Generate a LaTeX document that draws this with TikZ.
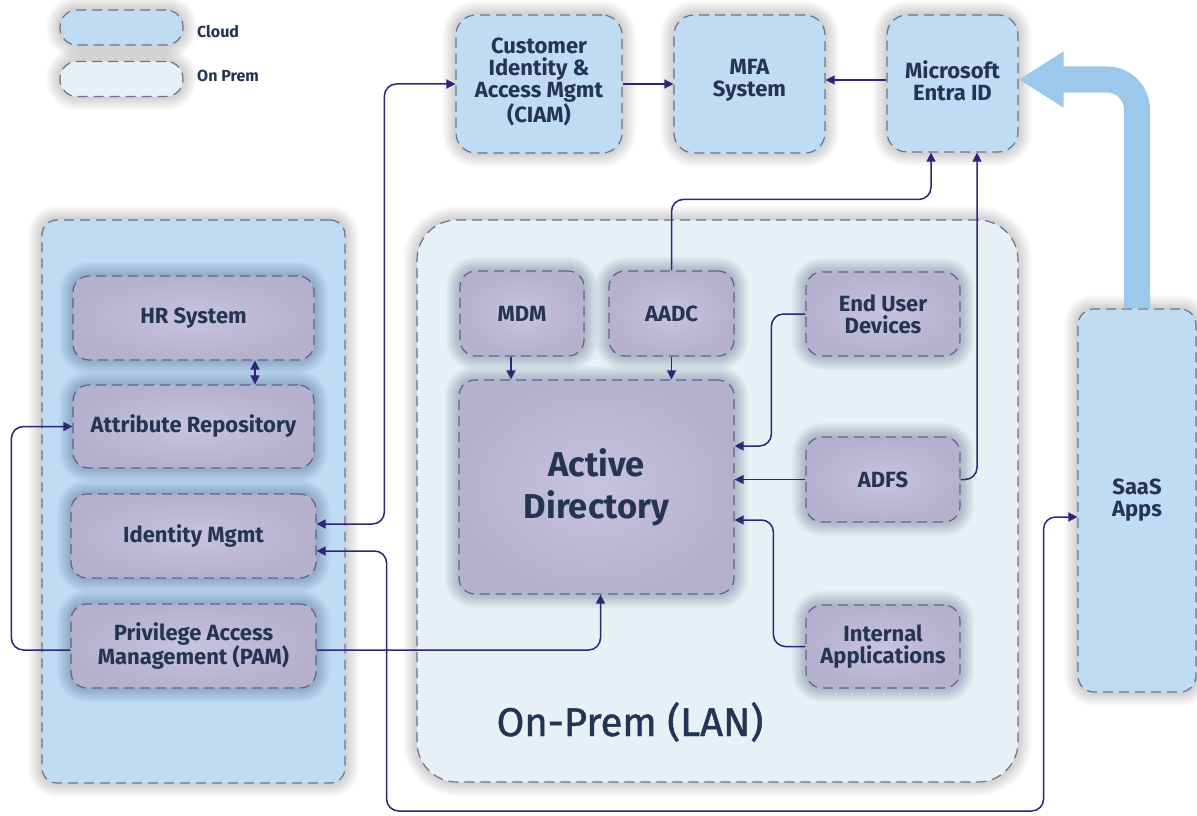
\documentclass[tikz,border=0pt]{standalone}
\usepackage{fontspec}
\setmainfont{Fira Sans}
\usetikzlibrary{arrows.meta,calc}
\definecolor{cloudblue}{HTML}{BFDCF3}
\definecolor{onpremfill}{HTML}{E7F0F4}
\definecolor{purplein}{HTML}{C7C4E0}
\definecolor{purpleout}{HTML}{B5B0CB}
\definecolor{dashgray}{HTML}{6C7290}
\definecolor{purpledash}{HTML}{5E6292}
\definecolor{connc}{HTML}{2F2479}
\definecolor{textc}{HTML}{243452}
\definecolor{arrowblue}{HTML}{9CC8EC}
\definecolor{glowc}{HTML}{1E2B55}
\begin{document}
\begin{tikzpicture}[x=1pt,y=-1pt,
  every node/.style={text=textc, align=center, inner sep=0pt},
  dashedge/.style={draw=dashgray, line width=1.2pt, dash pattern=on 10pt off 6pt},
  glowlayers/.style 2 args={
    preaction={draw=#1, draw opacity=#2, line width=28pt, solid},
    preaction={draw=#1, draw opacity=#2, line width=25pt, solid},
    preaction={draw=#1, draw opacity=#2, line width=22pt, solid},
    preaction={draw=#1, draw opacity=#2, line width=19pt, solid},
    preaction={draw=#1, draw opacity=#2, line width=16pt, solid},
    preaction={draw=#1, draw opacity=#2, line width=13pt, solid},
    preaction={draw=#1, draw opacity=#2, line width=10pt, solid},
    preaction={draw=#1, draw opacity=#2, line width=7pt, solid},
    preaction={draw=#1, draw opacity=#2, line width=4pt, solid}},
  softshadow/.style={glowlayers={black}{0.02}},
  darkglow/.style={glowlayers={glowc}{0.032}},
  labelfont/.style={font=\bfseries\fontsize{22}{22}\selectfont},
  cloudbox/.style={dashedge, fill=cloudblue, rounded corners=20pt, softshadow, labelfont},
  cloudpanel/.style={dashedge, fill=cloudblue, rounded corners=15pt, softshadow},
  onprempanel/.style={dashedge, fill=onpremfill, rounded corners=40pt, softshadow},
  purplebox/.style={draw=purpledash, line width=1.2pt, dash pattern=on 10pt off 6pt,
    inner color=purplein, outer color=purpleout, rounded corners=16pt, darkglow, labelfont},
  legendpill/.style={dashedge, rounded corners=17pt, minimum width=123pt, minimum height=35pt, softshadow},
  legendtext/.style={anchor=west, font=\bfseries\fontsize{16}{18}\selectfont},
  conn/.style={draw=connc, line width=1.5pt, rounded corners=12pt, -{Triangle[length=9pt,width=9pt]}},
  conntwo/.style={conn, {Triangle[length=9pt,width=9pt]}-{Triangle[length=9pt,width=9pt]}},
  bigarrow/.style={draw=arrowblue, line width=26pt, rounded corners=30pt, -{Triangle[length=45pt,width=53pt]}}
]
\useasboundingbox[fill=white] (0,0) rectangle (1197,816);

% legend
\node[legendpill, fill=cloudblue] (legcloud) at (121.5,27.5) {};
\node[legendpill, fill=onpremfill] (legprem) at (121.5,79) {};
\node[legendtext] (legcloudtext) at (197,32) {Cloud};
\node[legendtext] (legpremtext) at (197,76) {On Prem};

% top cloud boxes
\node[cloudbox, minimum width=166pt, minimum height=138pt] (ciam) at (539,84) {};
\node[labelfont] (ciamtext) at (539,82) {Customer\\Identity \&\\Access Mgmt\\(CIAM)};
\node[cloudbox, minimum width=151pt, minimum height=138pt] (mfa) at (749.5,84) {};
\node[labelfont] (mfatext) at (749.5,80.5) {MFA\\System};
\node[cloudbox, minimum width=131pt, minimum height=137pt] (entra) at (952.5,83.5) {};
\node[labelfont] (entratext) at (952.5,80.5) {Microsoft\\Entra ID};

% panels
\node[cloudpanel, minimum width=303pt, minimum height=563pt] (cloudpanel) at (193.5,501.5) {};
\node[onprempanel, minimum width=601pt, minimum height=562pt] (onprem) at (717.5,501) {};

% cloud panel contents
\node[purplebox, minimum width=241pt, minimum height=84pt] (hr) at (193.5,318) {HR System};
\node[purplebox, minimum width=241pt, minimum height=83pt] (attr) at (193.5,426.5) {Attribute Repository};
\node[purplebox, minimum width=245pt, minimum height=84pt] (idm) at (193.5,536) {Identity Mgmt};
\node[purplebox, minimum width=245pt, minimum height=84pt] (pam) at (193.5,646) {Privilege Access\\Management (PAM)};

% on-prem contents
\node[purplebox, minimum width=124pt, minimum height=85pt] (mdm) at (522,313.5) {MDM};
\node[purplebox, minimum width=125pt, minimum height=85pt] (aadc) at (671.5,313.5) {AADC};
\node[purplebox, minimum width=275pt, minimum height=214pt, font=\bfseries\fontsize{34.5}{42}\selectfont] (ad) at (596.5,487) {Active\\Directory};
\node[purplebox, minimum width=154pt, minimum height=84pt] (eud) at (883,314) {End User\\Devices};
\node[purplebox, minimum width=154pt, minimum height=85pt] (adfs) at (883,479.5) {ADFS};
\node[purplebox, minimum width=154pt, minimum height=83pt] (intapp) at (883,646.5) {Internal\\Applications};
\node[font=\fontsize{40}{44}\selectfont\addfontfeature{FakeBold=1.2}] (lan) at (630,722) {On-Prem (LAN)};

% SaaS
\node[cloudbox, rounded corners=16pt, minimum width=118pt, minimum height=383pt] (saas) at (1137,500.5) {SaaS\\Apps};

% big arrow
\draw[bigarrow] (saas.north) |- ([yshift=4pt]entra.east);

% connectors
\draw[conntwo] ([xshift=61.5pt]hr.south) -- ([xshift=61.5pt]attr.north);
\draw[conn] ([yshift=-4pt]pam.west) -- ++(-59,0) |- (attr.west);
\draw[conn] ([yshift=-4pt]pam.east) -| ([xshift=4pt]ad.south);
\draw[conntwo] (ciam.west) -- ++(-71,0) |- ([yshift=12pt]idm.east);
\draw[conntwo] ([yshift=-15pt]idm.east) -- ++(70,0) -- ++(0,260) -- ++(657,0) |- ([yshift=-16.5pt]saas.west);
\draw[conn] ([xshift=-11pt]mdm.south) -- ([xshift=-11pt]mdm.south |- ad.north);
\draw[conn] (aadc.south) -- (aadc.south |- ad.north);
\draw[conn] (aadc.north) -- ++(0,-71) -| ([xshift=-21.5pt]entra.south);
\draw[conn] (adfs.east) -| ([xshift=24.5pt]entra.south);
\draw[conn] (adfs.west) -- (adfs.west -| ad.east);
\draw[conn] (eud.west) -- ++(-34,0) |- ([yshift=41pt]ad.east);
\draw[conn] (intapp.west) -- ++(-32,0) |- ([yshift=-33pt]ad.east);
\draw[conn] (ciam.east) -- (ciam.east -| mfa.west);
\draw[conn] ([yshift=3.5pt]entra.west) -- ([yshift=3.5pt]entra.west -| mfa.east);
\end{tikzpicture}
\end{document}
